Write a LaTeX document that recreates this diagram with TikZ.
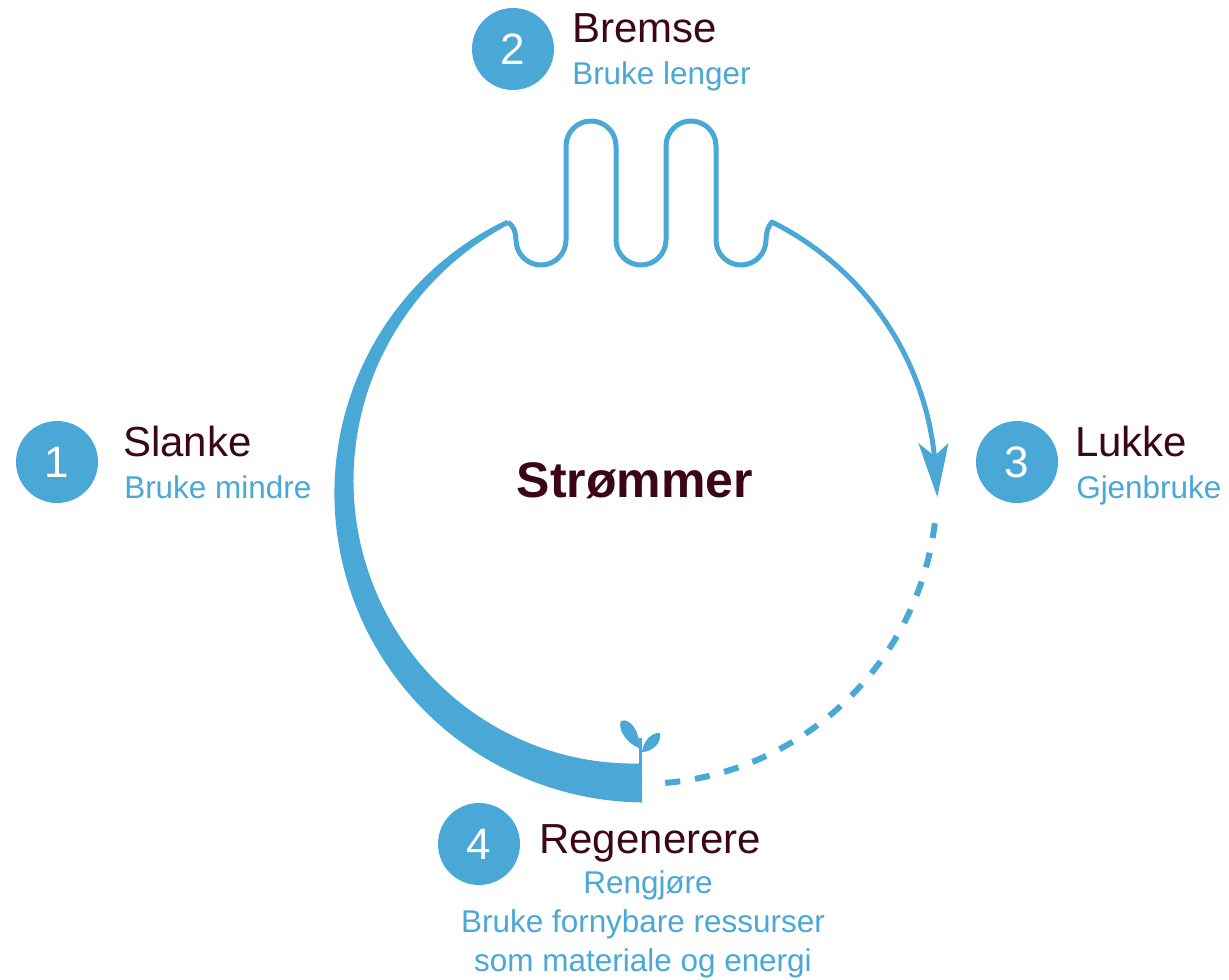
\documentclass[tikz,border=0pt]{standalone}
\usepackage{fontspec}
\setmainfont{Liberation Sans}
\definecolor{cblue}{RGB}{73,168,214}
\definecolor{cdark}{RGB}{58,6,24}
\begin{document}
\begin{tikzpicture}[x=0.75pt,y=-0.75pt,
  num/.style={circle, fill=cblue, minimum size=61.5pt, inner sep=0pt, text=white, font=\fontsize{33}{33}\selectfont},
  title/.style={anchor=base west, text=cdark, inner sep=0pt, font=\fontsize{31.5}{31.5}\selectfont},
  sub/.style={anchor=base west, text=cblue, inner sep=0pt, font=\fontsize{23.6}{23.6}\selectfont},
  flow/.style={draw=cblue, line width=3.75pt, line join=round},
  dashflow/.style={draw=cblue, line width=4.5pt, dash pattern=on 11.25pt off 11.25pt},
  declare function={wb(\t)=5+34*(243.5-\t)/153.5;}]
\useasboundingbox (0,0) rectangle (1229,980);

% tapered band (left half of the cycle)
\fill[cblue] plot[domain=243.5:89.6, samples=100, variable=\t] ({640+(296+wb(\t)/2)*cos(\t)},{487+(296+wb(\t)/2)*sin(\t)})
  -- plot[domain=89.6:243.5, samples=100, variable=\t] ({640+(296-wb(\t)/2)*cos(\t)},{487+(296-wb(\t)/2)*sin(\t)}) -- cycle;

% meander and right arc
\draw[flow] (507.9,222.1) .. controls (514,226) and (516,233) .. (516,240)
  arc[start angle=180,end angle=0,radius=25] -- (566,146)
  arc[start angle=180,end angle=360,radius=25] -- (616,240)
  arc[start angle=180,end angle=0,radius=25] -- (666,146)
  arc[start angle=180,end angle=360,radius=25] -- (716,240)
  arc[start angle=180,end angle=0,radius=25]
  .. controls (766,233) and (768,226) .. (772.1,222.1)
  arc[start angle=-63.5,end angle=-5,radius=296];
\fill[cblue] (937.3,497) -- (918.3,443) -- (934.5,456) -- (948.5,443) -- cycle;

% dashed return
\draw[dashflow] (934.8,523.2) arc[start angle=7,end angle=86,radius=297];

% sprout
\draw[cblue, line width=2.25pt] (640,764) -- (640,738);
\fill[cblue] (639,748) .. controls (628,744) and (617,730) .. (621,721) .. controls (630,717) and (641,733) .. (639,748);
\fill[cblue] (642,752) .. controls (643,741) and (652,732) .. (660,733) .. controls (662,743) and (652,752) .. (642,752);

% labels
\node[num] (n1) at (57,462) {1};
\node[title] (t1) at (123,457) {Slanke};
\node[sub] (s1) at (124,499) {Bruke mindre};
\node[num] (n2) at (513,49) {2};
\node[title] (t2) at (572,43) {Bremse};
\node[sub] (s2) at (572,85) {Bruke lenger};
\node[num] (n3) at (1017,462) {3};
\node[title] (t3) at (1075,457) {Lukke};
\node[sub] (s3) at (1076,499) {Gjenbruke};
\node[num] (n4) at (479,844) {4};
\node[title] (t4) at (539,853) {Regenerere};
\node[sub, anchor=base] (s4a) at (648,893) {Rengjøre};
\node[sub, anchor=base] (s4b) at (643,932) {Bruke fornybare ressurser};
\node[sub, anchor=base] (s4c) at (643,971) {som materiale og energi};
\node[anchor=base, inner sep=0pt, text=cdark, font=\fontsize{37.5}{37.5}\selectfont\bfseries] (c) at (635,498) {Strømmer};
\end{tikzpicture}
\end{document}
